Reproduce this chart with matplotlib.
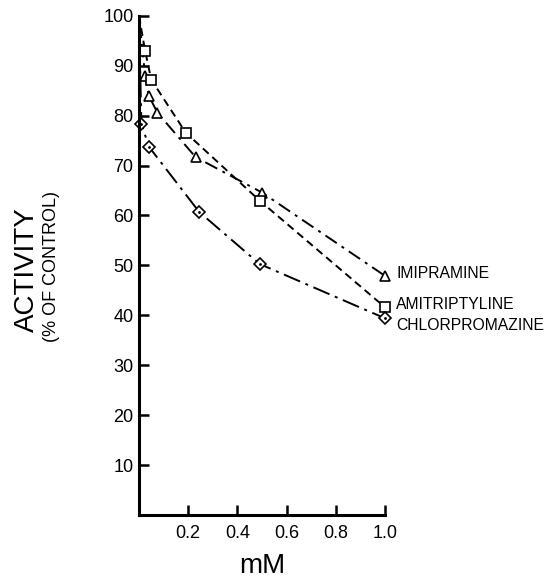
import numpy as np
import matplotlib
matplotlib.use("Agg")
import matplotlib.pyplot as plt

# values
imi_x = [0, 0.025, 0.04, 0.075, 0.23, 0.5, 1.0]
imi_y = [100, 88, 84, 80.6, 71.7, 64.6, 47.9]
ami_x = [0, 0.025, 0.05, 0.19, 0.49, 1.0]
ami_y = [100, 93, 87.2, 76.6, 63, 41.6]
chl_x = [0, 0.01, 0.04, 0.245, 0.49, 1.0]
chl_y = [100, 78.4, 73.8, 60.7, 50.3, 39.4]

x_ticks = [0.2, 0.4, 0.6, 0.8, 1.0]
x_labels = ["0.2", "0.4", "0.6", "0.8", "1.0"]
y_ticks = [10, 20, 30, 40, 50, 60, 70, 80, 90, 100]

plt.rcParams['font.family'] = ['Liberation Sans', 'DejaVu Sans']

fig = plt.figure(figsize=(5.47, 5.84), dpi=100)
ax = fig.add_axes([0.254, 0.118, 0.450, 0.855])

common = dict(color='black', linewidth=1.4, markerfacecolor='white',
              markeredgecolor='black', markeredgewidth=1.2, clip_on=False)
ax.plot(imi_x, imi_y, linestyle=(0, (7, 3, 1.5, 3)), marker='^',
        markersize=7, markevery=list(range(1, len(imi_x))), **common)
ax.plot(ami_x, ami_y, linestyle=(0, (4, 2.5)), marker='s',
        markersize=7, markevery=list(range(1, len(ami_x))), **common)
ax.plot(chl_x, chl_y, linestyle=(0, (9, 3, 1.5, 3)), marker='D',
        markersize=6, markevery=list(range(1, len(chl_x))), **common)
# dot inside diamonds
ax.plot(chl_x[1:], chl_y[1:], linestyle='none', marker='.', color='black',
        markersize=2, clip_on=False)

ax.set_xlim(0, 1.0)
ax.set_ylim(0, 100)
ax.set_xticks(x_ticks)
ax.set_xticklabels(x_labels)
ax.set_yticks(y_ticks)
ax.spines['top'].set_visible(False)
ax.spines['right'].set_visible(False)
ax.spines['left'].set_linewidth(2.2)
ax.spines['bottom'].set_linewidth(2.2)
ax.tick_params(direction='in', length=7, width=1.8, labelsize=13)
ax.tick_params(axis='x', pad=7)
ax.tick_params(axis='y', pad=4)

ax.text(1.045, 48.4, "IMIPRAMINE", fontsize=11.3, va='center')
ax.text(1.045, 42.2, "AMITRIPTYLINE", fontsize=11.3, va='center')
ax.text(1.045, 38.0, "CHLORPROMAZINE", fontsize=11.3, va='center')

fig.text(0.05, 0.538, "ACTIVITY", rotation=90, fontsize=20,
         ha='center', va='center')
fig.text(0.095, 0.543, "(% OF CONTROL)", rotation=90, fontsize=13,
         ha='center', va='center')
fig.text(0.48, 0.031, "mM", fontsize=20, ha='center', va='center')

fig.savefig("out.png", dpi=100)
